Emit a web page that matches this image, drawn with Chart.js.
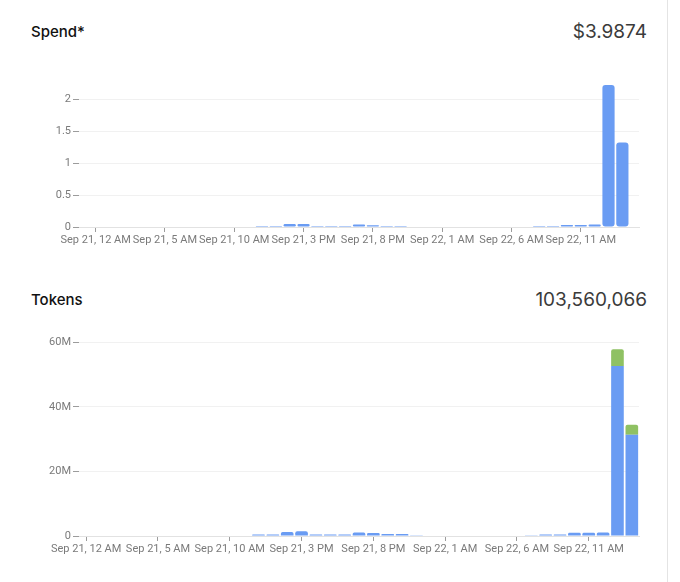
<!DOCTYPE html>
<html lang="en">
<head>
  <meta charset="utf-8">
  <title>Spend and tokens</title>
  <script src="https://cdn.jsdelivr.net/npm/chart.js@4.4.0/dist/chart.umd.min.js"></script>
  <style>
    body { margin: 0; background: #fff; }
    #panel { position: relative; width: 667px; height: 582px; border-right: 1px solid #e4e4e4; }
    .label { position: absolute; left: 31px; font-family: Inter, "Noto Sans", sans-serif; font-size: 15px; font-weight: 500; color: #111; line-height: 20px; }
    .total { position: absolute; right: 20px; font-family: Inter, "Noto Sans", sans-serif; font-size: 19px; font-weight: 400; color: #3b3b3b; line-height: 24px; }
    .box { position: absolute; left: 0; width: 660px; }
  </style>
</head>
<body>
<div id="panel">
  <div class="label" style="top:22px">Spend*</div>
  <div class="total" id="spend-total" style="top:20px"></div>
  <div class="box" style="top:60px;height:190px"><canvas id="spend-canvas"></canvas></div>

  <div class="label" style="top:290px">Tokens</div>
  <div class="total" id="tokens-total" style="top:288px"></div>
  <div class="box" style="top:320px;height:239px"><canvas id="tokens-canvas"></canvas></div>
</div>
<script>
// one bar per hour, Sep 21 12 AM .. Sep 22 2 PM
var spendValues = [
  0, 0, 0, 0, 0, 0, 0, 0, 0, 0, 0, 0,
  0.015, 0.015, 0.045, 0.048, 0.015, 0.015, 0.015, 0.04, 0.028, 0.016, 0.016, 0.006,
  0, 0, 0, 0, 0, 0, 0,
  0.006, 0.016, 0.016, 0.03, 0.03, 0.04, 2.22, 1.32
];
var inputTokens = [
  0, 0, 0, 0, 0, 0, 0, 0, 0, 0, 0, 0,
  500000, 500000, 1250000, 1450000, 500000, 500000, 500000, 1100000, 900000, 600000, 600000, 250000,
  0, 0, 0, 0, 0, 0, 0,
  200000, 500000, 500000, 1000000, 1000000, 1100000, 52700000, 31400000
];
var outputTokens = [
  0, 0, 0, 0, 0, 0, 0, 0, 0, 0, 0, 0,
  0, 0, 0, 0, 0, 0, 0, 0, 0, 0, 0, 0,
  0, 0, 0, 0, 0, 0, 0,
  0, 0, 0, 0, 0, 0, 5200000, 3100000
];
var tickHours = [0, 5, 10, 15, 20, 25, 30, 35];
var tickLabels = ["Sep 21, 12 AM", "Sep 21, 5 AM", "Sep 21, 10 AM", "Sep 21, 3 PM",
                  "Sep 21, 8 PM", "Sep 22, 1 AM", "Sep 22, 6 AM", "Sep 22, 11 AM"];
var spendTicks = [0, 0.5, 1, 1.5, 2];
var tokenTicks = [0, 20000000, 40000000, 60000000];
var spendTotal = "$3.9874";
var tokensTotal = "103,560,066";

var blue = "#6a9cf3";
var green = "#8fc163";
var tickFont = { family: "Roboto, 'Liberation Sans', sans-serif", size: 11 };

document.getElementById("spend-total").textContent = spendTotal;
document.getElementById("tokens-total").textContent = tokensTotal;

function points(values) {
  return values.map(function (v, i) { return { x: i, y: v }; });
}

function xAxis(min, max) {
  return {
    type: "linear", min: min, max: max, stacked: true, offset: false,
    afterBuildTicks: function (scale) {
      scale.ticks = tickHours.map(function (h) { return { value: h }; });
    },
    afterFit: function (scale) { scale.height = 23; },
    grid: { offset: false, drawOnChartArea: false, drawTicks: true, tickLength: 5, tickColor: "#9c9c9c" },
    border: { display: true, color: "#e2e2e2" },
    ticks: {
      autoSkip: false, maxRotation: 0, padding: 2, color: "#7a7a7a", font: tickFont,
      callback: function (v) { return tickLabels[tickHours.indexOf(v)]; }
    }
  };
}

function yAxis(max, values, fmt) {
  return {
    min: 0, max: max, stacked: true,
    afterBuildTicks: function (scale) {
      scale.ticks = values.map(function (v) { return { value: v }; });
    },
    afterFit: function (scale) { scale.width = 79; },
    grid: { color: "#f1f1f1", tickColor: "#9c9c9c", tickLength: 6 },
    border: { display: false },
    ticks: { padding: 2, color: "#7a7a7a", font: tickFont, callback: fmt }
  };
}

var common = {
  responsive: true,
  maintainAspectRatio: false,
  animation: false,
  plugins: { legend: { display: false }, tooltip: { enabled: false } }
};

new Chart(document.getElementById("spend-canvas"), {
  type: "bar",
  data: {
    datasets: [{
      label: "Spend",
      data: points(spendValues),
      backgroundColor: blue,
      borderRadius: 3,
      borderSkipped: false,
      barPercentage: 0.88,
      categoryPercentage: 1
    }]
  },
  options: Object.assign({}, common, {
    layout: { padding: { top: 23, right: 21, left: 0, bottom: 0 } },
    scales: {
      x: xAxis(-1.2, 39.2),
      y: yAxis(2.25, spendTicks, function (v) { return v; })
    }
  })
});

new Chart(document.getElementById("tokens-canvas"), {
  type: "bar",
  data: {
    datasets: [{
      label: "Input",
      data: points(inputTokens),
      backgroundColor: blue,
      borderRadius: 2,
      barPercentage: 0.88,
      categoryPercentage: 1
    }, {
      label: "Output",
      data: points(outputTokens),
      backgroundColor: green,
      borderRadius: 2,
      barPercentage: 0.88,
      categoryPercentage: 1
    }]
  },
  options: Object.assign({}, common, {
    layout: { padding: { top: 16, right: 21, left: 0, bottom: 0 } },
    scales: {
      x: xAxis(-0.5, 38.5),
      y: yAxis(62000000, tokenTicks, function (v) { return v === 0 ? "0" : (v / 1000000) + "M"; })
    }
  })
});
</script>
</body>
</html>
